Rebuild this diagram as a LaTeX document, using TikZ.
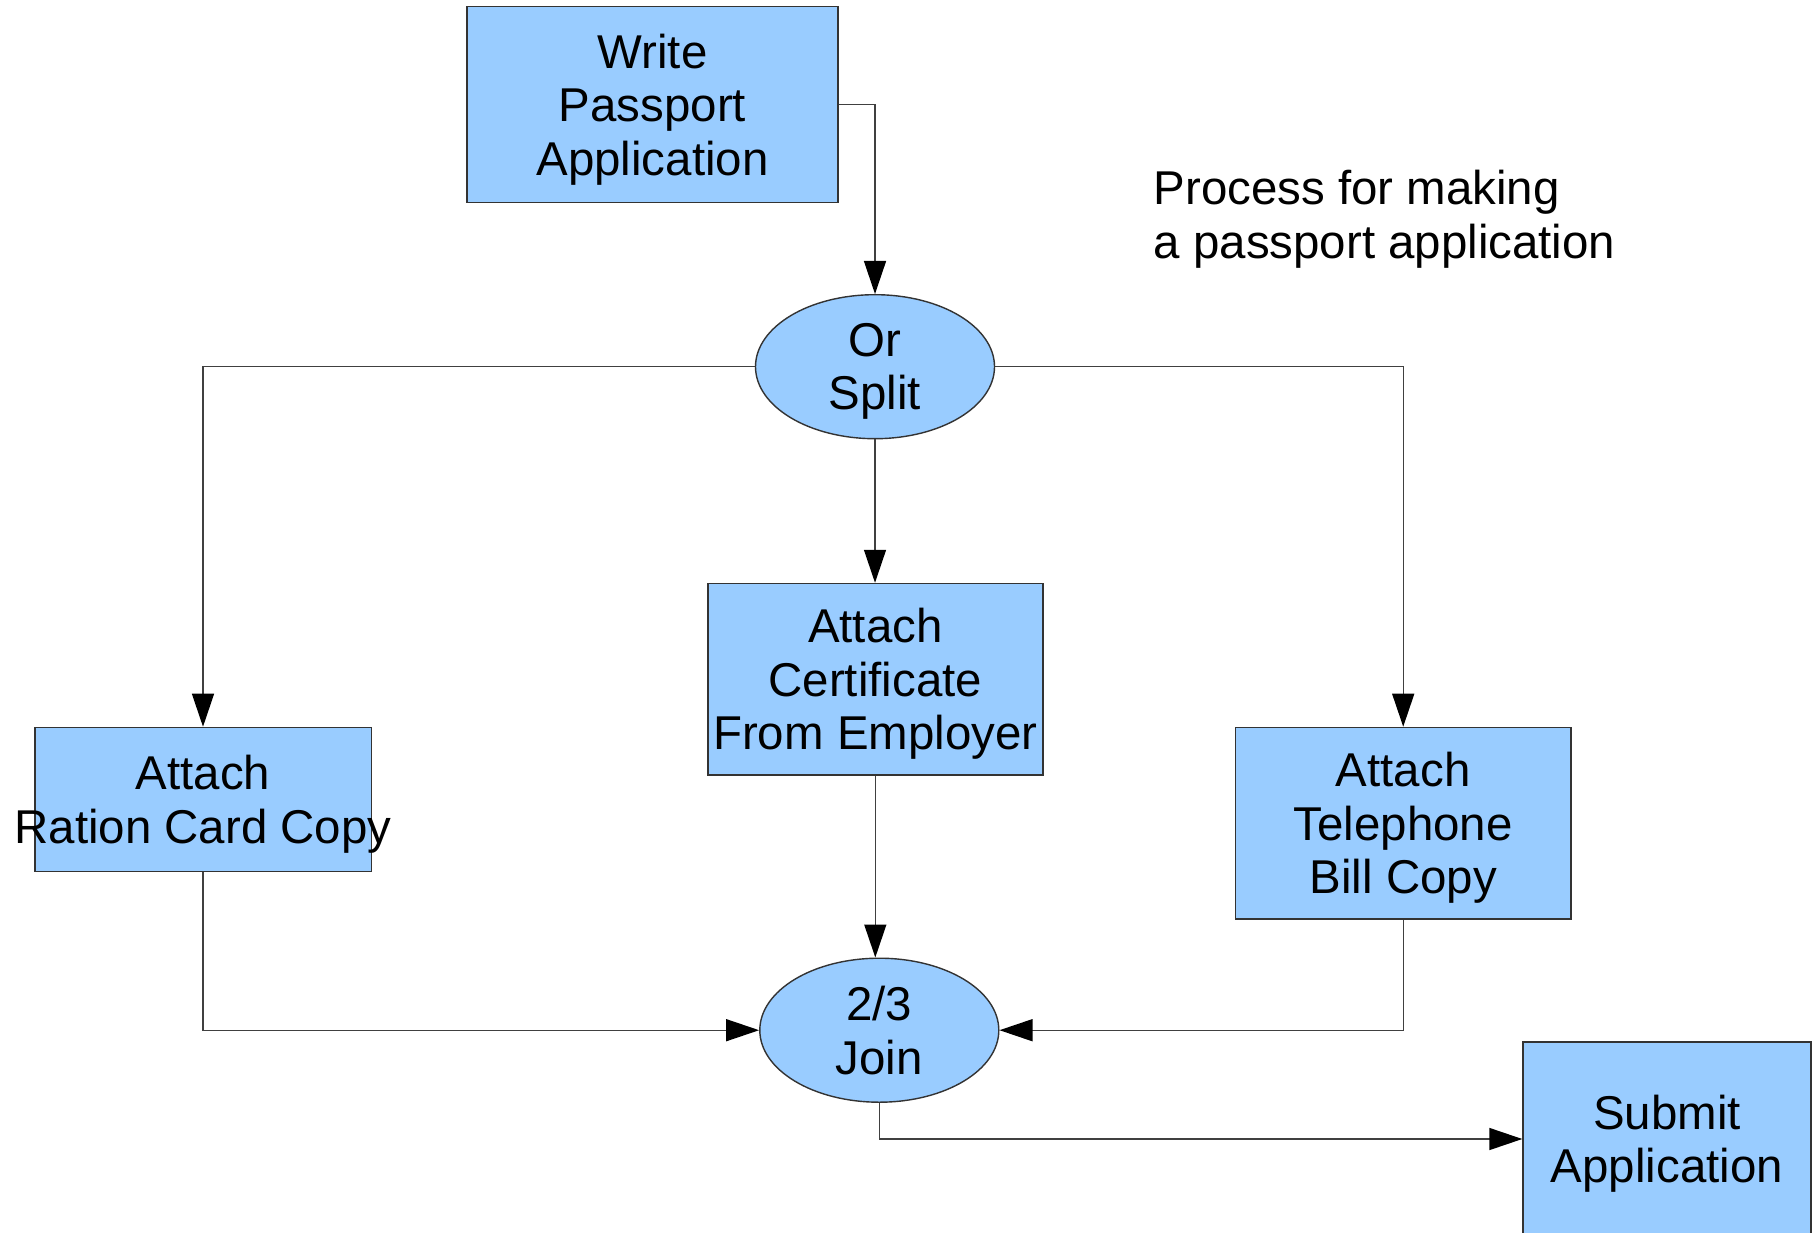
\documentclass[tikz,border=0pt]{standalone}
\usepackage{fontspec}
\setmainfont{Liberation Sans}
\usetikzlibrary{shapes.geometric,arrows.meta}
\definecolor{boxblue}{HTML}{99CCFF}
\begin{document}
\begin{tikzpicture}[>={Triangle[length=3.3mm,width=2.2mm,color=black]},
    every node/.style={font=\fontsize{13.5}{15.2}\selectfont, align=center, inner sep=0pt, text depth=0pt},
    task/.style={draw=black!80, fill=boxblue, rectangle},
    gate/.style={draw=black!80, fill=boxblue, ellipse, minimum width=2.39cm, minimum height=1.44cm},
    flow/.style={->, black!75, line width=0.4pt}]
    \useasboundingbox (0,0) rectangle (18.19,-12.33);
    \node [task, minimum width=3.71cm, minimum height=1.96cm] (write) at (6.525,-1.047) {Write\\Passport\\Application};
    \node [gate] (split) at (8.75,-3.667) {Or\\Split};
    \node [task, minimum width=3.35cm, minimum height=1.915cm] (cert) at (8.753,-6.792) {Attach\\Certificate\\From Employer};
    \node [task, minimum width=3.364cm, minimum height=1.438cm] (ration) at (2.03,-7.993) {Attach\\\makebox[0pt]{Ration Card Copy}};
    \node [task, minimum width=3.353cm, minimum height=1.914cm] (phone) at (14.032,-8.231) {Attach\\Telephone\\Bill Copy};
    \node [gate] (join) at (8.793,-10.302) {2/3\\Join};
    \node [task, minimum width=2.88cm, minimum height=1.94cm] (submit) at (16.67,-11.39) {Submit\\Application};
    \node [anchor=west, align=left] (title) at (11.53,-2.145) {Process for making\\a passport application};
    \draw [flow] (write.east) -| (split.north);
    \draw [flow] (split.west) -| (ration.north);
    \draw [flow] (split.east) -| (phone.north);
    \draw [flow] (split.south) -- (split.south |- cert.north);
    \draw [flow] (cert.south) -- (cert.south |- join.north);
    \draw [flow] (ration.south) |- (join.west);
    \draw [flow] (phone.south) |- (join.east);
    \draw [flow] (join.south) |- (submit.west);
\end{tikzpicture}
\end{document}
